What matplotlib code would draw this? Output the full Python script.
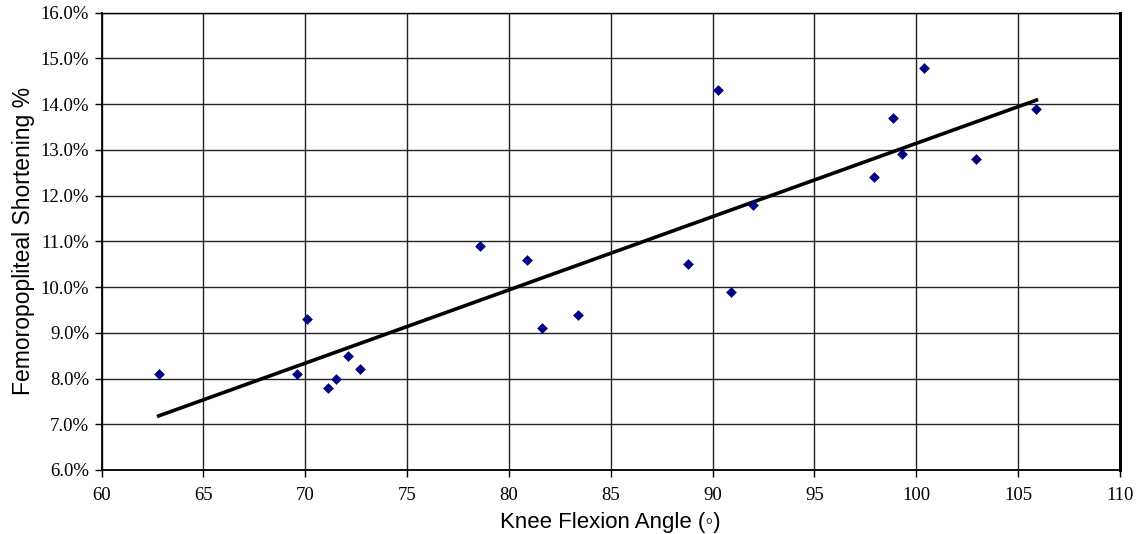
import numpy as np
import matplotlib.pyplot as plt
from matplotlib.ticker import FuncFormatter

# knee flexion angle (deg) vs femoropopliteal shortening (%)
flexion = [62.8, 69.6, 70.1, 71.1, 71.5, 72.1, 72.7, 78.6, 80.9, 81.6, 83.4,
           88.8, 90.25, 90.9, 92.0, 97.9, 98.85, 99.3, 100.4, 102.95, 105.9]
shortening = [8.1, 8.1, 9.3, 7.8, 8.0, 8.5, 8.2, 10.9, 10.6, 9.1, 9.4,
              10.5, 14.3, 9.9, 11.8, 12.4, 13.7, 12.9, 14.8, 12.8, 13.9]

x_ticks = np.arange(60, 111, 5)
y_ticks = np.arange(6, 16.1, 1)

fig = plt.figure(figsize=(11.37, 5.34), dpi=100)
ax = fig.add_axes([0.0894, 0.1199, 0.8956, 0.8563])

x = np.array(flexion)
y = np.array(shortening)

# linear trendline over the data range
slope, icpt = np.polyfit(x, y, 1)
xf = np.array([x.min(), x.max()])
ax.plot(xf, slope * xf + icpt, color='black', lw=2.6, zorder=3)

ax.scatter(x, y, marker='D', s=30, color='#000080', zorder=4, linewidths=0)

ax.set_xlim(60, 110)
ax.set_ylim(6, 16)
ax.set_xticks(x_ticks)
ax.set_yticks(y_ticks)
ax.yaxis.set_major_formatter(FuncFormatter(lambda v, p: f'{v:.1f}%'))
ax.grid(True, color='#222222', lw=1.0)
ax.set_axisbelow(True)

for lab in ax.get_xticklabels() + ax.get_yticklabels():
    lab.set_fontfamily('Liberation Serif')
    lab.set_fontsize(13.5)
ax.tick_params(axis='both', direction='out', length=5, width=1, color='black')
ax.tick_params(axis='x', pad=7)
ax.tick_params(axis='y', pad=4)

ax.spines['left'].set_linewidth(1.3)
ax.spines['bottom'].set_linewidth(1.3)
ax.spines['right'].set_linewidth(2.2)
ax.spines['top'].set_linewidth(1.0)

ax.set_xlabel('Knee Flexion Angle (◦)', fontfamily='Liberation Sans', fontsize=16, labelpad=6)
ax.set_ylabel('Femoropopliteal Shortening %', fontfamily='Liberation Sans', fontsize=16.5, labelpad=4)

fig.savefig('out.png', dpi=100)
